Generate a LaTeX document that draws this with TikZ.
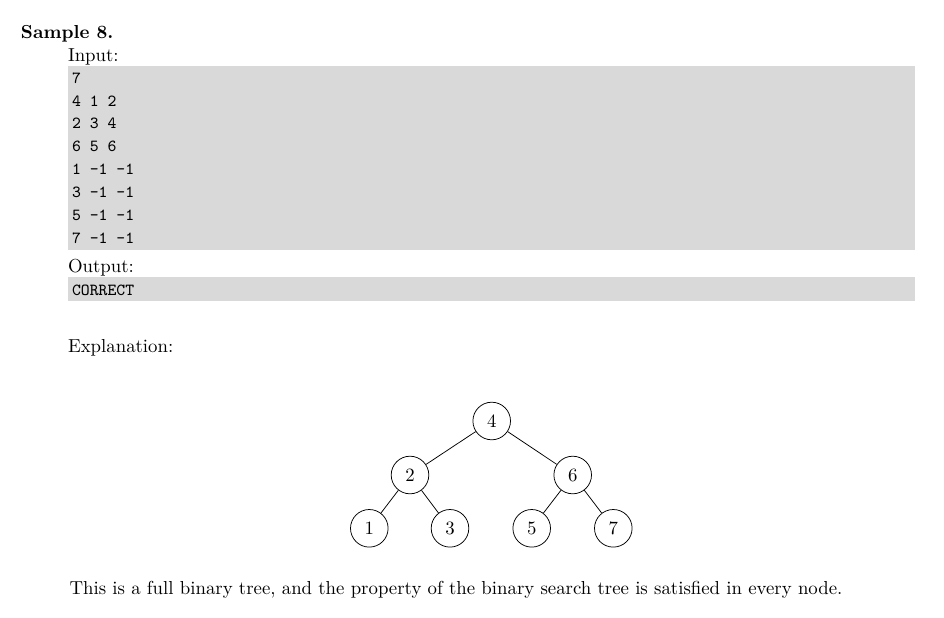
\documentclass[tikz,border=0pt]{standalone}
\usepackage{fontspec}
\definecolor{boxgray}{RGB}{217,217,217}
\begin{document}
\begin{tikzpicture}[x=0.5319pt,y=-0.5319pt,
  txt/.style={anchor=base west,inner sep=0pt,outer sep=0pt},
  mono/.style={txt,font=\fontsize{9}{11}\ttfamily},
  vert/.style={circle,draw,line width=0.4pt,minimum size=20pt,inner sep=0pt},
  edge/.style={line width=0.4pt}]
\useasboundingbox (0,0) rectangle (944,617);
\node[txt,font=\bfseries] (title) at (21,38) {Sample 8.};
\node[txt] (input) at (68,61.7) {Input:};
\fill[boxgray] (68,66) rectangle (915,250);
\node[mono] (l1) at (72,83.3) {7};
\node[mono] (l2) at (72,106.1) {4 1 2};
\node[mono] (l3) at (72,128.9) {2 3 4};
\node[mono] (l4) at (72,151.7) {6 5 6};
\node[mono] (l5) at (72,174.5) {1 -1 -1};
\node[mono] (l6) at (72,197.3) {3 -1 -1};
\node[mono] (l7) at (72,220.1) {5 -1 -1};
\node[mono] (l8) at (72,243) {7 -1 -1};
\node[txt] (output) at (68,272.7) {Output:};
\fill[boxgray] (68,277) rectangle (915,301);
\node[mono] (res) at (72,295) {CORRECT};
\node[txt] (expl) at (68,352.7) {Explanation:};
\node[vert] (n4) at (491.7,421) {4};
\node[vert] (n2) at (410,475) {2};
\node[vert] (n6) at (572.7,475) {6};
\node[vert] (n1) at (369.3,528.3) {1};
\node[vert] (n3) at (450,528.3) {3};
\node[vert] (n5) at (531.7,528.3) {5};
\node[vert] (n7) at (613.3,528.3) {7};
\draw[edge] (n4) -- (n2);
\draw[edge] (n4) -- (n6);
\draw[edge] (n2) -- (n1);
\draw[edge] (n2) -- (n3);
\draw[edge] (n6) -- (n5);
\draw[edge] (n6) -- (n7);
\node[txt] (sent) at (69.5,594) {This is a full binary tree, and the property of the binary search tree is satisfied in every node.};
\end{tikzpicture}
\end{document}
